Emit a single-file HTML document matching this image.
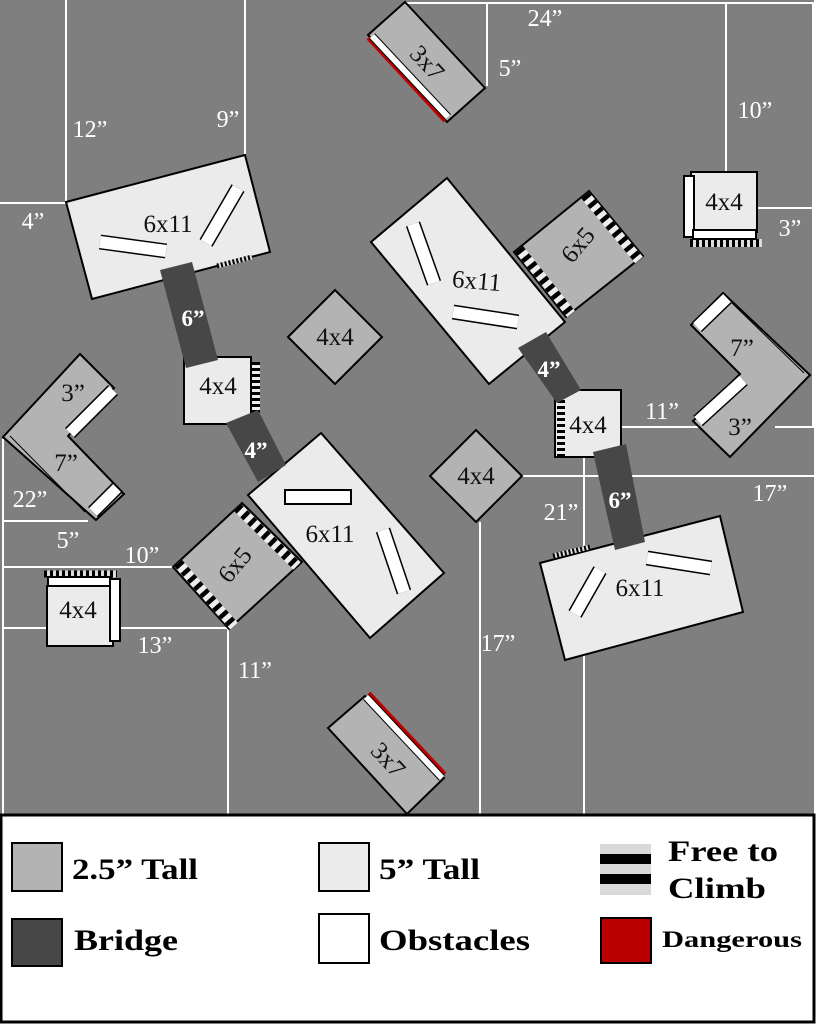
<!DOCTYPE html>
<html><head><meta charset="utf-8"><style>
html,body{margin:0;padding:0;background:#fff;}
svg{display:block;}
.p{stroke:#000;stroke-width:2;}
.l{fill:#ebebeb;}
.m{fill:#b3b3b3;}
.b{fill:#474747;}
.t{font-family:"Liberation Serif",serif;font-size:25px;fill:#111;text-anchor:middle;}
.d{font-family:"Liberation Serif",serif;font-size:24px;fill:#fff;text-anchor:middle;}
.bt{font-family:"Liberation Serif",serif;font-size:23px;font-weight:bold;fill:#fff;text-anchor:middle;}
.g{font-family:"Liberation Serif",serif;font-weight:bold;font-size:30px;fill:#000;}
.w{stroke:#fff;stroke-width:2;}
</style></head><body>
<svg width="816" height="1024" viewBox="0 0 816 1024" xmlns="http://www.w3.org/2000/svg">
<rect x="0" y="0" width="816" height="1024" fill="#fff"/>
<rect x="0" y="0" width="814" height="816" fill="#7f7f7f"/>

<g class="w">
<line x1="66" y1="0" x2="66" y2="203"/>
<line x1="0" y1="203" x2="66" y2="203"/>
<line x1="245" y1="0" x2="245" y2="155"/>
<line x1="405" y1="3" x2="816" y2="3"/>
<line x1="487" y1="3" x2="487" y2="86"/>
<line x1="726" y1="3" x2="726" y2="172"/>
<line x1="757" y1="208" x2="813" y2="208"/>
<line x1="813" y1="3" x2="813" y2="427"/>
<line x1="621" y1="427" x2="700" y2="427"/>
<line x1="775" y1="427" x2="816" y2="427"/>
<line x1="522" y1="476" x2="816" y2="476"/>
<line x1="584" y1="457" x2="584" y2="815"/>
<line x1="480" y1="522" x2="480" y2="815"/>
<line x1="3" y1="439" x2="3" y2="815"/>
<line x1="3" y1="521" x2="88" y2="521"/>
<line x1="3" y1="567" x2="173" y2="567"/>
<line x1="3" y1="628" x2="228" y2="628"/>
<line x1="228" y1="628" x2="228" y2="815"/>
</g>

<text class="d" x="90" y="137">12”</text>
<text class="d" x="228" y="127">9”</text>
<text class="d" x="33" y="229">4”</text>
<text class="d" x="545" y="26">24”</text>
<text class="d" x="510" y="76">5”</text>
<text class="d" x="755" y="118">10”</text>
<text class="d" x="790" y="236">3”</text>
<text class="d" x="662" y="419">11”</text>
<text class="d" x="770" y="501">17”</text>
<text class="d" x="561" y="520">21”</text>
<text class="d" x="498" y="651">17”</text>
<text class="d" x="30" y="507">22”</text>
<text class="d" x="68" y="548">5”</text>
<text class="d" x="142" y="563">10”</text>
<text class="d" x="155" y="653">13”</text>
<text class="d" x="255" y="678">11”</text>

<!-- top 3x7 -->
<polygon class="p m" points="405,2 485,88 447,122 368,35"/>
<line x1="368" y1="38" x2="445" y2="121" stroke="#c00000" stroke-width="4"/>
<line x1="372" y1="36" x2="448" y2="117" stroke="#000" stroke-width="8"/>
<line x1="372" y1="36" x2="448" y2="117" stroke="#fff" stroke-width="6"/>
<text class="t" transform="translate(427,63) rotate(47)" y="8">3x7</text>

<!-- bottom 3x7 -->
<polygon class="p m" points="328,728 365,696 444,778 407,814"/>
<line x1="369" y1="693" x2="445" y2="774" stroke="#c00000" stroke-width="4"/>
<line x1="366" y1="697" x2="442" y2="778" stroke="#000" stroke-width="8"/>
<line x1="366" y1="697" x2="442" y2="778" stroke="#fff" stroke-width="6"/>
<text class="t" transform="translate(388,760) rotate(47)" y="8">3x7</text>

<!-- top-left 6x11 -->
<polygon class="p l" points="66,202 245,155 270,252 92,299"/>
<line x1="100" y1="242" x2="166" y2="251" stroke="#000" stroke-width="15"/>
<line x1="100" y1="242" x2="166" y2="251" stroke="#fff" stroke-width="12"/>
<line x1="238" y1="188" x2="206" y2="243" stroke="#000" stroke-width="15"/>
<line x1="238" y1="188" x2="206" y2="243" stroke="#fff" stroke-width="12"/>
<text class="t" x="168" y="232">6x11</text>
<line x1="217" y1="266" x2="252" y2="257" stroke="#ddd" stroke-width="5"/>
<line x1="217" y1="266" x2="252" y2="257" stroke="#000" stroke-width="5" stroke-dasharray="2 2"/>

<polygon class="p m" points="335,290 382,337 335,384 288,337"/>
<text class="t" x="335" y="345">4x4</text>

<polygon class="p l" points="184,357 251,357 251,424 184,424"/>
<line x1="256" y1="362" x2="256" y2="414" stroke="#eee" stroke-width="8"/>
<line x1="256" y1="362" x2="256" y2="414" stroke="#000" stroke-width="8" stroke-dasharray="3 3"/>
<text class="t" x="218" y="394">4x4</text>

<!-- left L -->
<polygon class="p m" points="80,354 114,388 68,436 124,494 96,520 3,437"/>
<line x1="113" y1="390" x2="70" y2="433" stroke="#000" stroke-width="14"/>
<line x1="113" y1="390" x2="70" y2="433" stroke="#fff" stroke-width="11"/>
<line x1="93" y1="512" x2="117" y2="488" stroke="#000" stroke-width="14"/>
<line x1="93" y1="512" x2="117" y2="488" stroke="#fff" stroke-width="11"/>
<line x1="10" y1="436" x2="85" y2="512" stroke="#000" stroke-width="1"/>
<text class="t" x="73" y="401">3”</text>
<text class="t" x="66" y="471">7”</text>

<!-- middle 6x11 and 6x5 -->
<polygon class="p l" points="248,495 321,433 444,573 370,638"/>
<rect class="p" x="285" y="490" width="66" height="14" fill="#fff"/>
<line x1="383" y1="530" x2="404" y2="592" stroke="#000" stroke-width="15"/>
<line x1="383" y1="530" x2="404" y2="592" stroke="#fff" stroke-width="12"/>
<text class="t" x="330" y="542">6x11</text>
<polygon class="p m" points="173,567 242,503 302,562 229,629"/>
<line x1="178" y1="563" x2="234" y2="626" stroke="#eee" stroke-width="10"/>
<line x1="178" y1="563" x2="234" y2="626" stroke="#000" stroke-width="10" stroke-dasharray="4.5 5"/>
<line x1="237" y1="507" x2="297" y2="566" stroke="#eee" stroke-width="10"/>
<line x1="237" y1="507" x2="297" y2="566" stroke="#000" stroke-width="10" stroke-dasharray="4.5 5"/>
<text class="t" transform="translate(235,565) rotate(-50)" y="8">6x5</text>

<!-- right big 6x11 and 6x5 -->
<polygon class="p l" points="371,242 447,178 565,322 489,384"/>
<line x1="413" y1="224" x2="434" y2="283" stroke="#000" stroke-width="15"/>
<line x1="413" y1="224" x2="434" y2="283" stroke="#fff" stroke-width="12"/>
<line x1="453" y1="312" x2="518" y2="322" stroke="#000" stroke-width="15"/>
<line x1="453" y1="312" x2="518" y2="322" stroke="#fff" stroke-width="12"/>
<text class="t" transform="translate(476,289) rotate(5)">6x11</text>
<polygon class="p m" points="514,252 589,191 643,256 566,317"/>
<line x1="519" y1="249" x2="571" y2="314" stroke="#eee" stroke-width="10"/>
<line x1="519" y1="249" x2="571" y2="314" stroke="#000" stroke-width="10" stroke-dasharray="4.5 5"/>
<line x1="585" y1="195" x2="639" y2="260" stroke="#eee" stroke-width="10"/>
<line x1="585" y1="195" x2="639" y2="260" stroke="#000" stroke-width="10" stroke-dasharray="4.5 5"/>
<text class="t" transform="translate(578,245) rotate(-50)" y="8">6x5</text>

<polygon class="p l" points="555,390 621,390 621,457 555,457"/>
<line x1="561" y1="400" x2="561" y2="456" stroke="#eee" stroke-width="8"/>
<line x1="561" y1="400" x2="561" y2="456" stroke="#000" stroke-width="8" stroke-dasharray="3 3"/>
<text class="t" x="588" y="433">4x4</text>

<polygon class="p m" points="476,430 522,476 476,522 430,476"/>
<text class="t" x="476" y="484">4x4</text>

<!-- lower right 6x11 -->
<polygon class="p l" points="540,563 720,516 743,612 565,660"/>
<line x1="575" y1="614" x2="600" y2="570" stroke="#000" stroke-width="15"/>
<line x1="575" y1="614" x2="600" y2="570" stroke="#fff" stroke-width="12"/>
<line x1="647" y1="558" x2="711" y2="568" stroke="#000" stroke-width="15"/>
<line x1="647" y1="558" x2="711" y2="568" stroke="#fff" stroke-width="12"/>
<text class="t" x="640" y="596">6x11</text>
<line x1="553" y1="556" x2="590" y2="547" stroke="#ddd" stroke-width="5"/>
<line x1="553" y1="556" x2="590" y2="547" stroke="#000" stroke-width="5" stroke-dasharray="2 2"/>

<!-- top-right 4x4 -->
<line x1="690" y1="243" x2="762" y2="243" stroke="#ddd" stroke-width="8"/>
<line x1="690" y1="243" x2="762" y2="243" stroke="#000" stroke-width="8" stroke-dasharray="3 3"/>
<rect class="p l" x="691" y="172" width="66" height="60"/>
<rect class="p" x="684" y="176" width="10" height="61" fill="#fff"/>
<rect class="p" x="693" y="230" width="63" height="9" fill="#fff"/>
<text class="t" x="724" y="210">4x4</text>

<!-- right L -->
<polygon class="p m" points="723,293 810,375 730,457 693,421 740,374 691,325"/>
<line x1="697" y1="327" x2="727" y2="298" stroke="#000" stroke-width="14"/>
<line x1="697" y1="327" x2="727" y2="298" stroke="#fff" stroke-width="11"/>
<line x1="698" y1="421" x2="743" y2="380" stroke="#000" stroke-width="14"/>
<line x1="698" y1="421" x2="743" y2="380" stroke="#fff" stroke-width="11"/>
<line x1="732" y1="303" x2="804" y2="373" stroke="#000" stroke-width="1"/>
<text class="t" x="742" y="356">7”</text>
<text class="t" x="740" y="435">3”</text>

<!-- lower-left 4x4 -->
<line x1="44" y1="574" x2="117" y2="574" stroke="#ddd" stroke-width="7"/>
<line x1="44" y1="574" x2="117" y2="574" stroke="#000" stroke-width="7" stroke-dasharray="3 3"/>
<rect class="p l" x="47" y="586" width="66" height="60"/>
<rect class="p" x="48" y="577" width="63" height="9" fill="#fff"/>
<rect class="p" x="110" y="579" width="10" height="62" fill="#fff"/>
<text class="t" x="78" y="618">4x4</text>

<!-- bridges -->
<polygon class="b" points="160,270 192,262 218,360 186,368"/>
<text class="bt" x="193" y="326">6”</text>
<polygon class="b" points="226,423 258,410 286,465 258,482"/>
<text class="bt" x="256" y="458">4”</text>
<polygon class="b" points="518,348 546,332 581,390 557,403"/>
<text class="bt" x="549" y="377">4”</text>
<polygon class="b" points="593,452 626,444 645,542 615,550"/>
<text class="bt" x="620" y="508">6”</text>

<!-- legend -->
<rect x="1" y="815" width="813" height="207" fill="#fff" stroke="#000" stroke-width="3"/>
<rect x="12" y="843" width="50" height="48" fill="#b3b3b3" stroke="#000" stroke-width="2"/>
<text class="g" x="72" y="879" textLength="126" lengthAdjust="spacingAndGlyphs">2.5” Tall</text>
<rect x="12" y="919" width="50" height="47" fill="#474747" stroke="#000" stroke-width="2"/>
<text class="g" x="74" y="950" textLength="104" lengthAdjust="spacingAndGlyphs">Bridge</text>
<rect x="319" y="843" width="50" height="48" fill="#ebebeb" stroke="#000" stroke-width="2"/>
<text class="g" x="379" y="879" textLength="101" lengthAdjust="spacingAndGlyphs">5” Tall</text>
<rect x="319" y="914" width="50" height="49" fill="#fff" stroke="#000" stroke-width="2"/>
<text class="g" x="379" y="950" textLength="151" lengthAdjust="spacingAndGlyphs">Obstacles</text>
<rect x="600" y="844" width="51" height="51" fill="#d9d9d9"/>
<rect x="600" y="854" width="51" height="10" fill="#000"/>
<rect x="600" y="874" width="51" height="10" fill="#000"/>
<text class="g" x="668" y="861" textLength="110" lengthAdjust="spacingAndGlyphs">Free to</text>
<text class="g" x="668" y="898" textLength="98" lengthAdjust="spacingAndGlyphs">Climb</text>
<rect x="601" y="918" width="50" height="45" fill="#b80000" stroke="#000" stroke-width="2"/>
<text class="g" x="662" y="947" style="font-size:23px" textLength="140" lengthAdjust="spacingAndGlyphs">Dangerous</text>
</svg>
</body></html>
